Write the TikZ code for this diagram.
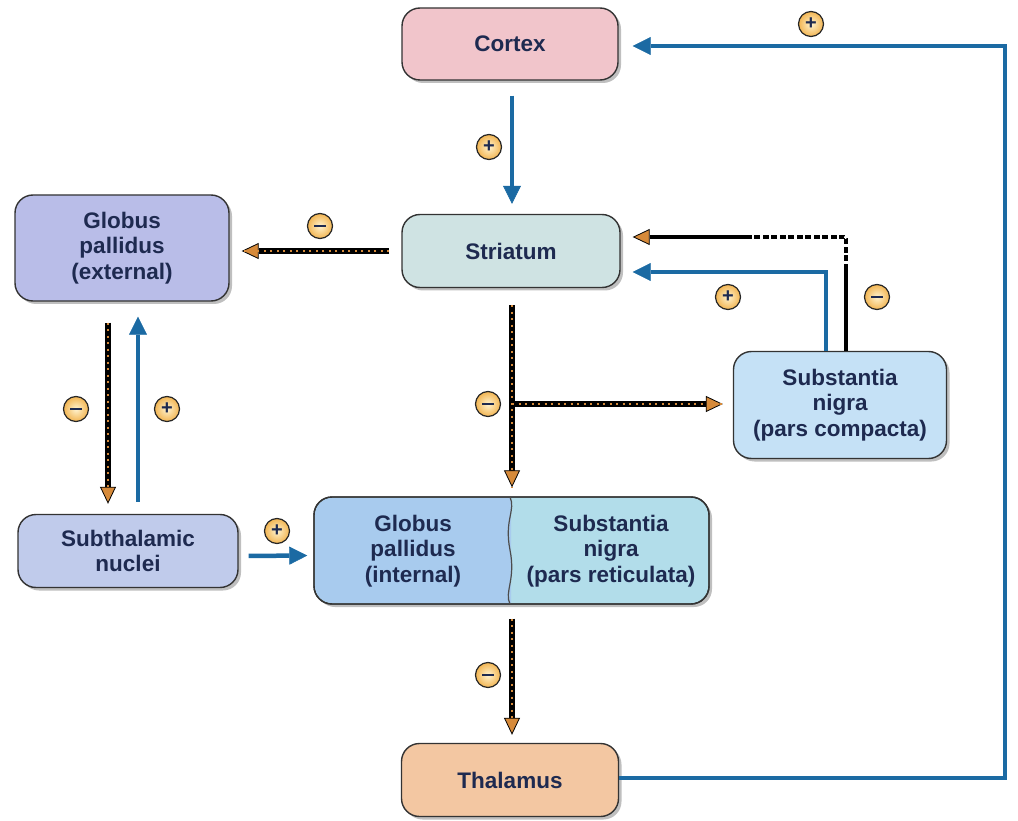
\documentclass[tikz,border=0pt]{standalone}
\usepackage{fontspec}
\setmainfont{Liberation Sans}
\usetikzlibrary{arrows.meta,shadows,calc}
\definecolor{navy}{HTML}{1E2A50}
\definecolor{cortexF}{HTML}{F1C5CB}
\definecolor{striatF}{HTML}{CFE3E3}
\definecolor{gpeF}{HTML}{B9BDE8}
\definecolor{sncF}{HTML}{C5E1F6}
\definecolor{stnF}{HTML}{C0CBEB}
\definecolor{gpiF}{HTML}{A8CBEE}
\definecolor{snrF}{HTML}{B2DDEA}
\definecolor{thalF}{HTML}{F3C7A2}
\definecolor{blueL}{HTML}{1B6AA3}
\definecolor{orangeD}{HTML}{D68A3A}
\definecolor{signIn}{HTML}{FFF3CF}
\definecolor{signOut}{HTML}{F2B552}
\tikzset{
  box/.style={draw=black!80, line width=1.4pt, rounded corners=18pt, text=navy,
    font=\bfseries\fontsize{22.5}{25.5}\selectfont, align=center,
    drop shadow={shadow xshift=3pt, shadow yshift=-3pt, opacity=0.25, fill=black}},
  boxtext/.style={text=navy, font=\bfseries\fontsize{22.5}{25.5}\selectfont, align=center},
  excit/.style={draw=blueL, line width=4.5pt,
    -{Triangle[length=18pt,width=18pt,line width=0.6pt,fill=blueL]}},
  inhib/.style={draw=black, line width=6pt,
    -{Triangle[length=17pt,width=16pt,line width=0.8pt,fill=orangeD]},
    postaction={draw=orangeD, line width=2.2pt, dash pattern=on 2.2pt off 4.3pt, -}},
  modline/.style={draw=black, line width=4pt,
    -{Triangle[length=17pt,width=16pt,line width=0.8pt,fill=orangeD]}},
  sign/.style={circle, draw=black!85, line width=1.2pt, minimum size=25pt, inner sep=0pt,
    shading=radial, inner color=signIn, outer color=signOut, text=navy,
    font=\bfseries\fontsize{20}{20}\selectfont},
}
\newcommand{\minussign}{\rule[0pt]{12pt}{2.4pt}}
\begin{document}
\begin{tikzpicture}[x=1pt,y=-1pt]
\useasboundingbox (0,0) rectangle (1018,821);

% nodes
\node[box, fill=cortexF, minimum width=216pt, minimum height=72pt] (cortex) at (510,44) {Cortex};
\node[box, fill=striatF, minimum width=218pt, minimum height=73pt] (striatum) at (511,251) {Striatum};
\node[box, fill=gpeF, minimum width=214pt, minimum height=106pt] (gpe) at (122,248) {Globus\\pallidus\\(external)};
\node[box, fill=sncF, minimum width=213pt, minimum height=107pt] (snc) at (840,405) {Substantia\\nigra\\(pars compacta)};
\node[box, fill=stnF, minimum width=220pt, minimum height=73pt] (stn) at (128,551) {Subthalamic\\nuclei};
\node[box, fill=thalF, minimum width=217pt, minimum height=73pt] (thalamus) at (510,780) {Thalamus};

% combined GPi / SNr box
\node[box, fill=snrF, minimum width=395pt, minimum height=107pt] (gpisnr) at (511.5,550.5) {};
\begin{scope}
  \clip (300,490) rectangle (511,610);
  \fill[gpiF, rounded corners=17pt] (315,498) rectangle (708,603);
\end{scope}
\draw[black!80, line width=1.4pt, rounded corners=18pt] (314,497) rectangle (709,604);
\draw[black!70, line width=1.2pt] (510,497) .. controls (516,510) and (504,520) .. (510,550)
   .. controls (516,580) and (504,592) .. (510,604);
\node[boxtext] (gpi) at (413,551) {Globus\\pallidus\\(internal)};
\node[boxtext] (snr) at (611,551) {Substantia\\nigra\\(pars reticulata)};

% connectors
\draw[excit, shorten <=15pt, shorten >=10pt] ([xshift=2pt]cortex.south) -- ([xshift=1pt]striatum.north);
\draw[excit, shorten >=14pt] ([yshift=2pt]thalamus.east) -- ++(386,0) |- ([yshift=-2pt]cortex.east);

\draw[inhib, shorten <=12pt, shorten >=12pt] (striatum.west) -- (striatum.west -| gpe.east);

\coordinate (br) at (512,404);
\draw[inhib, shorten <=17pt, shorten >=9pt] (striatum.south -| br) -- (gpisnr.north -| br);
\draw[inhib, shorten >=10pt] (br) -- (br -| snc.west);

\draw[excit, shorten >=12pt] ([xshift=-14pt]snc.north) |- ([yshift=-21pt]striatum.east);
\draw[modline, shorten >=12pt] ([xshift=6pt]snc.north) |- ([yshift=14pt]striatum.east);
\draw[white, line width=5pt, dash pattern=on 2.5pt off 6pt] (846,264) -- (846,237) -- (752,237);

\draw[inhib, shorten <=21pt, shorten >=10pt] (gpe.south -| 108,0) -- (stn.north -| 108,0);
\draw[excit, shorten <=12pt, shorten >=15pt] (stn.north -| 138,0) -- (gpe.south -| 138,0);

\draw[excit, shorten <=10pt, shorten >=6pt] ([yshift=-5pt]stn.east) -- ([yshift=-5pt]gpisnr.west);

\draw[inhib, shorten <=14pt, shorten >=8pt] (gpisnr.south -| br) -- (thalamus.north -| br);

% signs
\node[sign] (s1) at (489,147) {+};
\node[sign] (s2) at (811,24) {+};
\node[sign] (s3) at (320,226) {\minussign};
\node[sign] (s4) at (488,404) {\minussign};
\node[sign] (s5) at (728,297) {+};
\node[sign] (s6) at (877,297) {\minussign};
\node[sign] (s7) at (76,409) {\minussign};
\node[sign] (s8) at (167,409) {+};
\node[sign] (s9) at (277,531) {+};
\node[sign] (s10) at (488,675) {\minussign};
\end{tikzpicture}
\end{document}
